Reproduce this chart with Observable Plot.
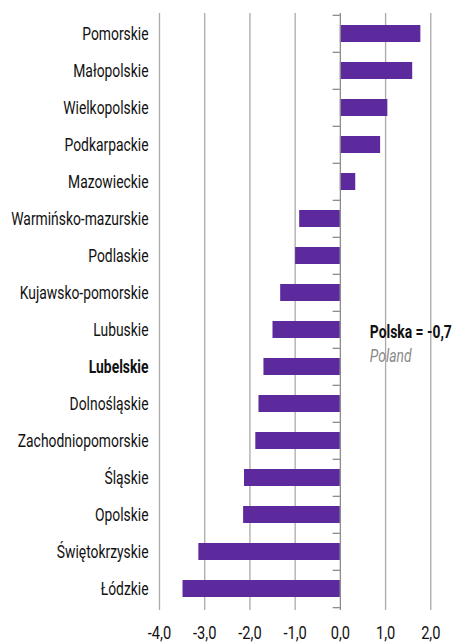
<!DOCTYPE html>
<html><head><meta charset="utf-8">
<script src="https://cdn.jsdelivr.net/npm/d3@7"></script>
<script src="https://cdn.jsdelivr.net/npm/@observablehq/plot@0.6"></script>
<style>
body{margin:0;background:#fff;}
#chart{position:relative;width:455px;height:644px;}
</style></head>
<body><div id="chart"></div>
<script>
const regions = ["Pomorskie","Małopolskie","Wielkopolskie","Podkarpackie","Mazowieckie","Warmińsko-mazurskie","Podlaskie","Kujawsko-pomorskie","Lubuskie","Lubelskie","Dolnośląskie","Zachodniopomorskie","Śląskie","Opolskie","Świętokrzyskie","Łódzkie"];
const values = [1.78,1.60,1.05,0.89,0.34,-0.90,-0.99,-1.32,-1.49,-1.69,-1.80,-1.87,-2.12,-2.14,-3.13,-3.48];
const xTicks = [-4,-3,-2,-1,0,1,2];
const highlight = "Lubelskie";
const polandLabel = "Polska = -0,7";
const polandSub = "Poland";

const data = regions.map((r,i)=>({region:r, value:values[i]}));
const font = "Roboto, 'DejaVu Sans Condensed', sans-serif";
const step = (644-13-34)/16;
const fmt = d=>d3.format(".1f")(d).replace(".",",").replace("−","-");

const chart = Plot.plot({
  width:455, height:644,
  marginLeft:159, marginRight:24.7, marginTop:13, marginBottom:34,
  style:{fontFamily:font, background:"#fff"},
  x:{domain:[-4,2], ticks:xTicks, tickFormat:fmt, label:null},
  y:{domain:regions, paddingInner:0.54, paddingOuter:0.27, axis:null},
  marks:[
    Plot.ruleX(xTicks.filter(d=>d!==0), {stroke:"#aaaaaa", strokeWidth:1.3}),
    Plot.barX(data, {x:"value", y:"region", fill:"#5c2a9d"}),
    Plot.ruleX([0], {stroke:"#8c8c8c", strokeWidth:1.3}),
    Plot.ruleY(regions, {y:d=>d, dy:-step/2, x1:-0.16, x2:0, stroke:"#8c8c8c", strokeWidth:1.3}),
    Plot.ruleY([regions[regions.length-1]], {y:d=>d, dy:step/2, x1:-0.16, x2:0, stroke:"#8c8c8c", strokeWidth:1.3}),
    Plot.text(regions.filter(r=>r!==highlight), {x:-4, y:d=>d, text:d=>d, dx:-11, textAnchor:"end", fontSize:18, fill:"#111"}),
    Plot.text([highlight], {x:-4, y:d=>d, text:d=>d, dx:-11, textAnchor:"end", fontSize:18, fontWeight:"bold", fill:"#111"}),
    Plot.text([polandLabel], {x:0, y:d=>"Lubuskie", text:d=>d, dx:29.5, dy:2, textAnchor:"start", fontSize:18, fontWeight:"bold", fill:"#111"}),
    Plot.text([polandSub], {x:0, y:d=>"Lubelskie", text:d=>d, dx:29.5, dy:-11, textAnchor:"start", fontSize:18, fontStyle:"italic", fill:"#8a8a8a"}),
    Plot.axisX({ticks:xTicks, tickSize:0, tickPadding:15, fontSize:19, fill:"#111", tickFormat:fmt})
  ]
});
document.getElementById("chart").appendChild(chart);
// condense glyphs horizontally to mimic a condensed typeface
chart.querySelectorAll("text").forEach(t=>{
  const L = t.getComputedTextLength();
  if (L>0){ t.setAttribute("textLength", (L*0.77).toFixed(2)); t.setAttribute("lengthAdjust","spacingAndGlyphs"); }
});
</script></body></html>
